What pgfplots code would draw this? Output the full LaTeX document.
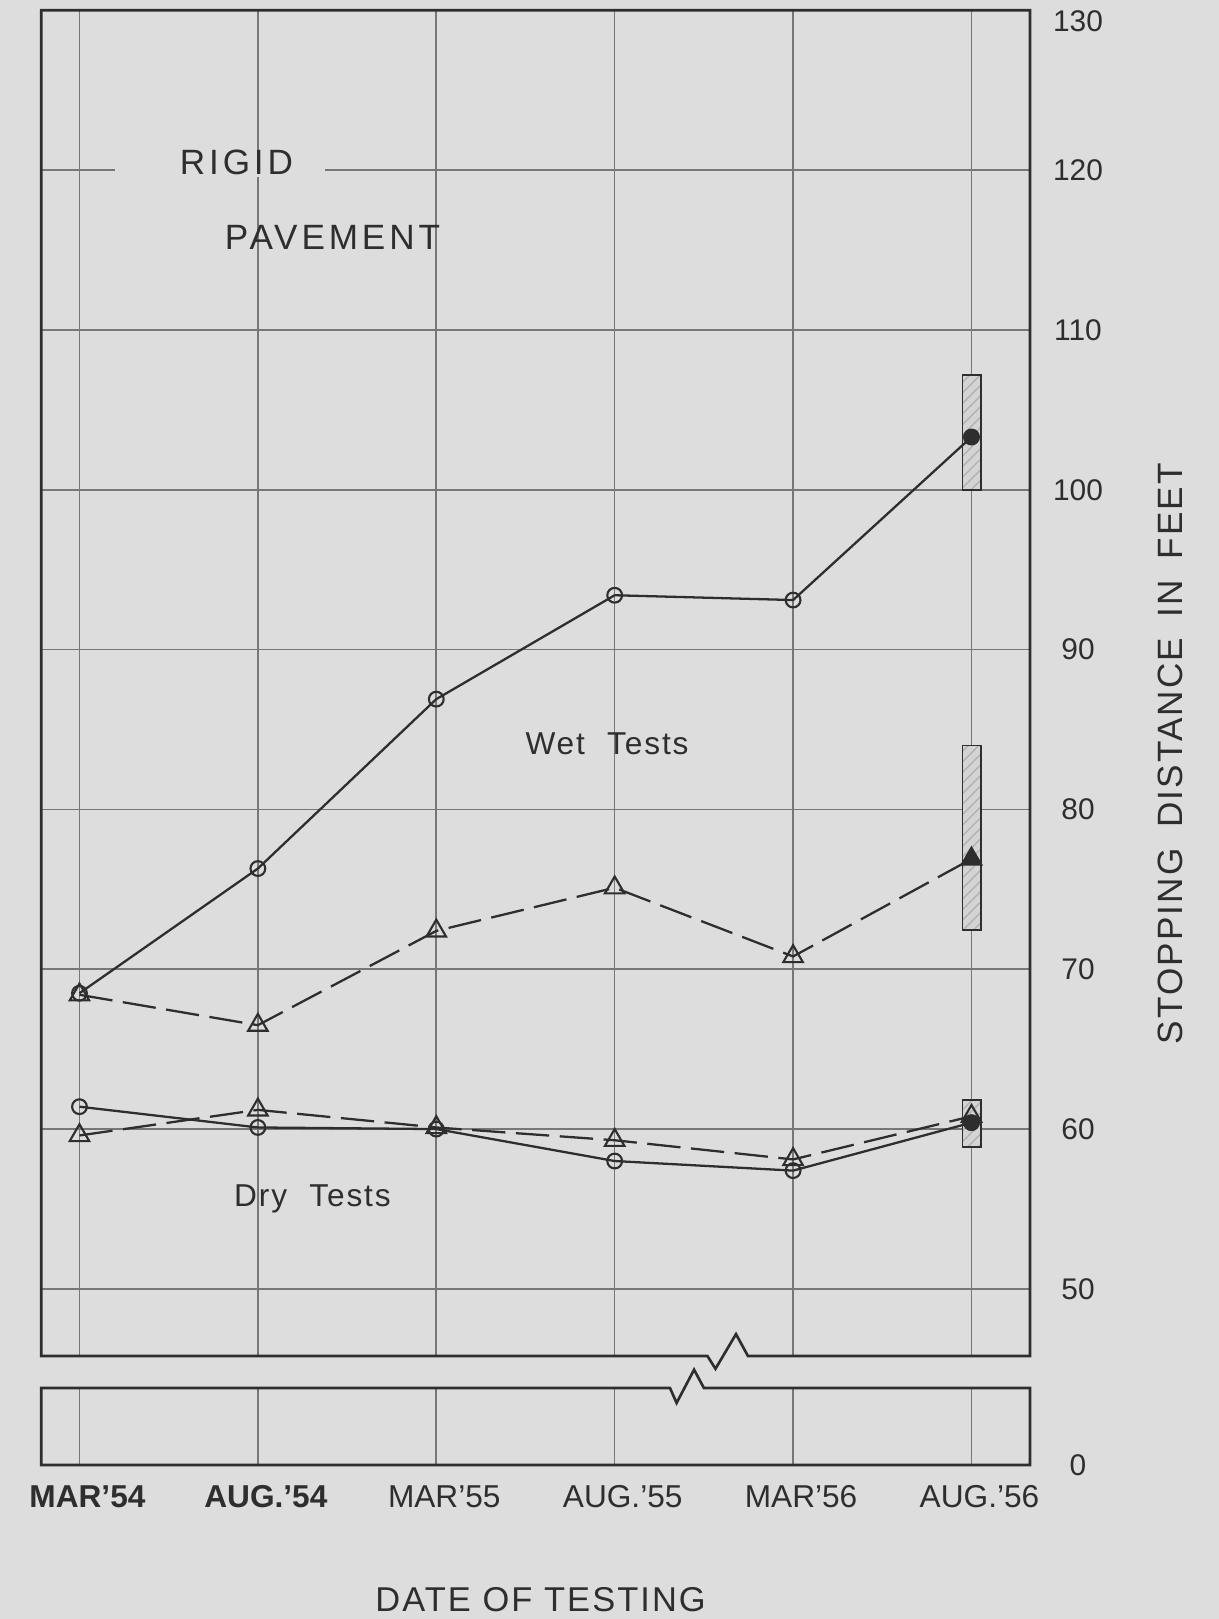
\documentclass[border=0pt]{standalone}
\usepackage{fontspec}
\setmainfont{Liberation Sans}
\newfontfamily\spacedfont[LetterSpace=11]{Liberation Sans}
\newfontfamily\labfont[LetterSpace=6]{Liberation Sans}
\usepackage{pgfplots}
\pgfplotsset{compat=1.18}
\usetikzlibrary{patterns}
\definecolor{bg}{HTML}{DDDDDD}
\definecolor{ink}{HTML}{2E2E2E}
\definecolor{gridc}{HTML}{777777}

\pgfplotstableread{
x wetc wett dryc dryt
0 68.5 68.4 61.4 59.6
1 76.3 66.5 60.1 61.2
2 86.9 72.4 60.0 60.1
3 93.4 75.1 58.0 59.3
4 93.1 70.8 57.4 58.1
5 103.3 76.9 60.4 60.8
}\datatable

\begin{document}
\begin{tikzpicture}[x=1cm,y=1cm]
\fill[bg] (0,0) rectangle (12.19,-16.19);
\useasboundingbox (0,0) rectangle (12.19,-16.19);

% ---------------- main axis ----------------
\begin{axis}[
  at={(0.413cm,-13.56cm)}, anchor=south west,
  scale only axis, width=9.887cm, height=13.457cm,
  xmin=-0.214, xmax=5.328, ymin=45.8, ymax=130,
  axis line style={draw=none},
  xtick={0,1,2,3,4,5}, xticklabels={},
  ytick={50,60,70,80,90,100,110,120},
  extra y ticks={130},
  extra y tick style={yticklabel style={yshift=-0.11cm}},
  yticklabel pos=right,
  yticklabel style={font=\fontsize{8.5}{10}\selectfont, text=ink, anchor=center, xshift=0.48cm},
  /pgf/number format/assume math mode=true,
  grid=major, grid style={gridc, line width=0.45pt},
  major tick length=0pt,
  clip=false,
]
% range bars at AUG '56
\addplot[draw=ink, line width=0.5pt, fill=bg!90!gray, postaction={pattern=north east lines, pattern color=gray!60}]
  coordinates {(4.95,100) (5.055,100) (5.055,107.2) (4.95,107.2)} --cycle;
\addplot[draw=ink, line width=0.5pt, fill=bg!90!gray, postaction={pattern=north east lines, pattern color=gray!60}]
  coordinates {(4.95,72.45) (5.055,72.45) (5.055,84.0) (4.95,84.0)} --cycle;
\addplot[draw=ink, line width=0.5pt, fill=bg!90!gray, postaction={pattern=north east lines, pattern color=gray!60}]
  coordinates {(4.95,58.9) (5.055,58.9) (5.055,61.8) (4.95,61.8)} --cycle;

% wet tests
\addplot[ink, line width=0.65pt, dash pattern=on 9.5pt off 3pt, mark=triangle, mark size=3.2pt,
  mark options={solid, fill=bg, draw=ink, line width=0.6pt}] table[x=x,y=wett] {\datatable};
\addplot[ink, line width=0.65pt, mark=o, mark size=2.1pt,
  mark options={solid, fill=bg, draw=ink, line width=0.6pt}] table[x=x,y=wetc] {\datatable};
% dry tests
\addplot[ink, line width=0.65pt, dash pattern=on 9.5pt off 3pt, mark=triangle, mark size=3.2pt,
  mark options={solid, fill=bg, draw=ink, line width=0.6pt}] table[x=x,y=dryt] {\datatable};
\addplot[ink, line width=0.65pt, mark=o, mark size=2.1pt,
  mark options={solid, fill=bg, draw=ink, line width=0.6pt}] table[x=x,y=dryc] {\datatable};

% filled marks (last test date)
\addplot[only marks, mark=*, mark size=2.1pt, mark options={fill=ink, draw=ink}]
  coordinates {(5,103.3) (5,60.4)};
\addplot[only marks, mark=triangle*, mark size=3.0pt, mark options={fill=ink, draw=ink}]
  coordinates {(5,76.9)};

% frame with break mark
\draw[ink, line width=0.75pt] (axis cs:3.747,45.8) -- (axis cs:3.68,47.17) -- (axis cs:3.565,45.0)
  -- (axis cs:3.52,45.8) -- (axis cs:-0.214,45.8) -- (axis cs:-0.214,130) -- (axis cs:5.328,130)
  -- (axis cs:5.328,45.8) -- cycle;

% labels
\fill[bg] (axis cs:0.2,119.6) rectangle (axis cs:1.376,120.4);
\node[font=\spacedfont\fontsize{10}{12}\selectfont, text=ink] at (axis cs:0.88,120.5) {RIGID};
\node[font=\spacedfont\fontsize{10}{12}\selectfont, text=ink] at (axis cs:1.418,115.8) {PAVEMENT};
\node[font=\labfont\fontsize{9}{11}\selectfont, text=ink] at (axis cs:2.957,84.1) {Wet\hspace{0.7em}Tests};
\node[font=\labfont\fontsize{9}{11}\selectfont, text=ink] at (axis cs:1.306,55.6) {Dry\hspace{0.7em}Tests};
\end{axis}

% ---------------- lower strip ----------------
\begin{axis}[
  at={(0.413cm,-14.65cm)}, anchor=south west,
  scale only axis, width=9.887cm, height=0.77cm,
  xmin=-0.214, xmax=5.328, ymin=0, ymax=5,
  axis line style={draw=none},
  xtick={0,1,2,3,4,5},
  xticklabels={\textbf{MAR'54}, \textbf{AUG.'54}, MAR'55, AUG.'55, MAR'56, AUG.'56},
  xticklabel style={font=\fontsize{9}{11}\selectfont, text=ink, anchor=center, yshift=-0.32cm, xshift=0.08cm},
  ytick={0}, yticklabel pos=right,
  yticklabel style={font=\fontsize{8.5}{10}\selectfont, text=ink, anchor=center, xshift=0.48cm},
  /pgf/number format/assume math mode=true,
  xmajorgrids, grid style={gridc, line width=0.45pt},
  major tick length=0pt,
  xlabel={DATE OF TESTING},
  xlabel style={font=\labfont\fontsize{9.8}{11}\selectfont, text=ink, at={(axis description cs:0.505,0)}, anchor=center, yshift=-1.35cm},
  clip=false,
]
\draw[ink, line width=0.75pt] (axis cs:3.31,5) -- (axis cs:-0.214,5) -- (axis cs:-0.214,0)
  -- (axis cs:5.328,0) -- (axis cs:5.328,5) -- (axis cs:3.50,5) -- (axis cs:3.445,6.19)
  -- (axis cs:3.347,4.03) -- cycle;
\end{axis}

\node[rotate=90, font=\labfont\fontsize{10}{12}\selectfont, text=ink] at (11.70,-7.536)
  {STOPPING\hspace{0.25em} DISTANCE\hspace{0.25em} IN\hspace{0.25em} FEET};
\end{tikzpicture}
\end{document}
